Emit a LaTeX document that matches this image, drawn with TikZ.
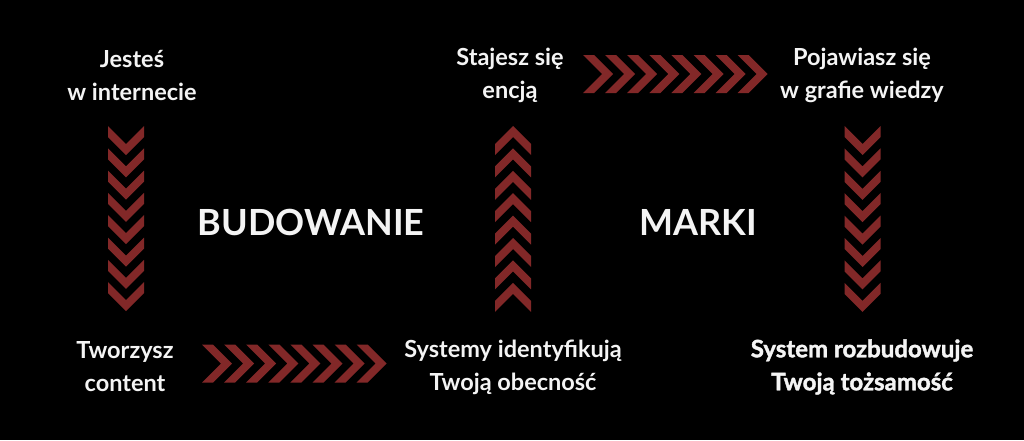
\documentclass[tikz,border=0pt]{standalone}
\usepackage{fontspec}
\setmainfont{Lato}
\definecolor{chevred}{HTML}{822828}
\definecolor{txt}{HTML}{F4F4F4}
\newcommand\chevD[2]{\fill[chevred] (#1-18,#2) -- (#1,#2+18) -- (#1+18,#2) -- (#1+18,#2+11) -- (#1,#2+29) -- (#1-18,#2+11) -- cycle;}
\newcommand\chevU[2]{\fill[chevred] (#1,#2) -- (#1+18,#2+18) -- (#1+18,#2+29) -- (#1,#2+11) -- (#1-18,#2+29) -- (#1-18,#2+18) -- cycle;}
\newcommand\chevR[2]{\fill[chevred] (#1,#2-19) -- (#1+11,#2-19) -- (#1+30,#2) -- (#1+11,#2+19) -- (#1,#2+19) -- (#1+19,#2) -- cycle;}
\begin{document}
\begin{tikzpicture}[x=1pt,y=-1pt,
  lbl/.style={text=txt,align=center,inner sep=0pt,font=\fontsize{23.5}{33}\selectfont\bfseries},
  title/.style={text=txt,inner sep=0pt,font=\fontsize{36}{42}\selectfont\bfseries}]
\fill[black] (0,0) rectangle (1024,440);
\useasboundingbox (0,0) rectangle (1024,440);
% texts
\node[lbl] (n1) at (132,75) {Jesteś\\w internecie};
\node[lbl] (n2) at (510,75) {Stajesz się\\encją};
\node[lbl] (n3) at (862,75) {Pojawiasz się\\w grafie wiedzy};
\node[lbl] (n4) at (125,367) {Tworzysz\\content};
\node[lbl] (n5) at (513,367) {Systemy identyfikują\\Twoją obecność};
\node[lbl,font=\fontsize{24}{33}\selectfont\bfseries\addfontfeatures{FakeBold=1.6}] (n6) at (862,367) {System rozbudowuje\\Twoją tożsamość};
\node[title] (t1) at (311,222) {BUDOWANIE};
\node[title] (t2) at (698,222) {MARKI};
% chevron arrows
\foreach \i in {0,...,7} {\chevD{126}{126+\i*22.3}}
\foreach \i in {0,...,7} {\chevU{513}{126+\i*22.4}}
\foreach \i in {0,...,7} {\chevD{862.5}{126+\i*22.4}}
\foreach \i in {0,...,7} {\chevR{583+\i*22.1}{74}}
\foreach \i in {0,...,7} {\chevR{202+\i*22.1}{363.5}}
\end{tikzpicture}
\end{document}
